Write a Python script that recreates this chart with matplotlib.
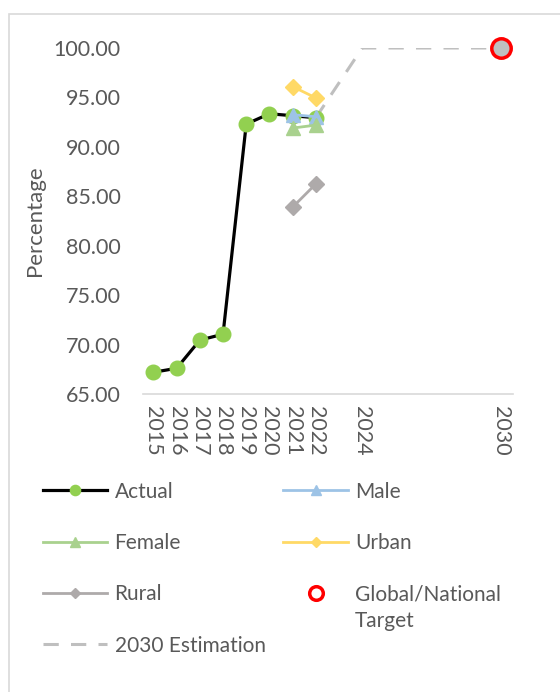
import numpy as np
import matplotlib.pyplot as plt
from matplotlib.patches import Rectangle

plt.rcParams['font.family'] = ['Lato', 'DejaVu Sans']

# DATOS
years_actual = [2015, 2016, 2017, 2018, 2019, 2020, 2021, 2022]
actual = [67.2, 67.6, 70.45, 71.05, 92.3, 93.35, 93.15, 92.95]
years_split = [2021, 2022]
male = [93.25, 93.05]
female = [91.9, 92.2]
urban = [96.1, 94.95]
rural = [83.9, 86.25]
years_est = [2022, 2024, 2030]
estimation = [92.95, 100.0, 100.0]
year_target = [2030]
target = [100.0]
xticks = [2015, 2016, 2017, 2018, 2019, 2020, 2021, 2022, 2024, 2030]
yticks = [65, 70, 75, 80, 85, 90, 95, 100]

txt = '#595959'

fig = plt.figure(figsize=(5.6, 6.92), dpi=100)
ax = fig.add_axes([143/560, 1-394/692, (513-143)/560, (394-48)/692])

# marco del grafico
fig.patches.append(Rectangle((9/560, -0.1), 1.2, 1-14/692+0.1, transform=fig.transFigure,
                             fill=False, edgecolor='#D9D9D9', lw=1.2))

h_est, = ax.plot(years_est, estimation, color='#BFBFBF', lw=2.2, dashes=(5, 4),
                 label='2030 Estimation', zorder=2)
h_act, = ax.plot(years_actual, actual, '-o', color='black', lw=2.3, mfc='#92D050', mec='#92D050',
                 ms=10.5, label='Actual', zorder=3)
h_male, = ax.plot(years_split, male, '-^', color='#9DC3E6', lw=2, ms=10, label='Male', zorder=4)
h_fem, = ax.plot(years_split, female, '-^', color='#A9D18E', lw=2, ms=10, label='Female', zorder=4)
h_urb, = ax.plot(years_split, urban, '-D', color='#FFD966', lw=2, ms=8, label='Urban', zorder=4)
h_rur, = ax.plot(years_split, rural, '-D', color='#AEAAAA', lw=2, ms=8, label='Rural', zorder=4)
ax.plot(year_target, target, 'o', color='#BFBFBF', ms=13, zorder=5, clip_on=False)
h_tgt, = ax.plot(year_target, target, 'o', mfc='none', mec='#FF0000', mew=2.5, ms=14,
                 label='Global/National', zorder=6, clip_on=False)

ax.set_xlim(2014.55, 2030.5)
ax.set_ylim(65, 100)
ax.set_xticks(xticks)
ax.set_xticklabels([str(y) for y in xticks], rotation=-90)
ax.set_yticks(yticks)
ax.set_yticklabels(['%.2f' % v for v in yticks])
ax.tick_params(axis='both', length=0, colors=txt, labelsize=15.5)
ax.tick_params(axis='y', pad=16)
ax.tick_params(axis='x', pad=9)
for s in ['top', 'right', 'left']:
    ax.spines[s].set_visible(False)
ax.spines['bottom'].set_color('#D9D9D9')
ax.spines['bottom'].set_linewidth(1.2)
ax.set_ylabel('Percentage', color=txt, fontsize=16, labelpad=6)

handles = [h_act, h_fem, h_rur, h_est, h_male, h_urb, h_tgt]
leg = fig.legend(handles=handles, labels=[h.get_label() for h in handles], ncol=2,
                 loc='upper left', bbox_to_anchor=(24/560, 1-463/692), frameon=False,
                 fontsize=15, labelcolor=txt, handlelength=3.1, handletextpad=0.35,
                 columnspacing=0.85, labelspacing=1.5, markerscale=0.7)
# segunda linea de la etiqueta de la meta
fig.text(355/560, 1-621/692, 'Target', color=txt, fontsize=15, va='center', ha='left')

plt.savefig('out.png', dpi=100)
